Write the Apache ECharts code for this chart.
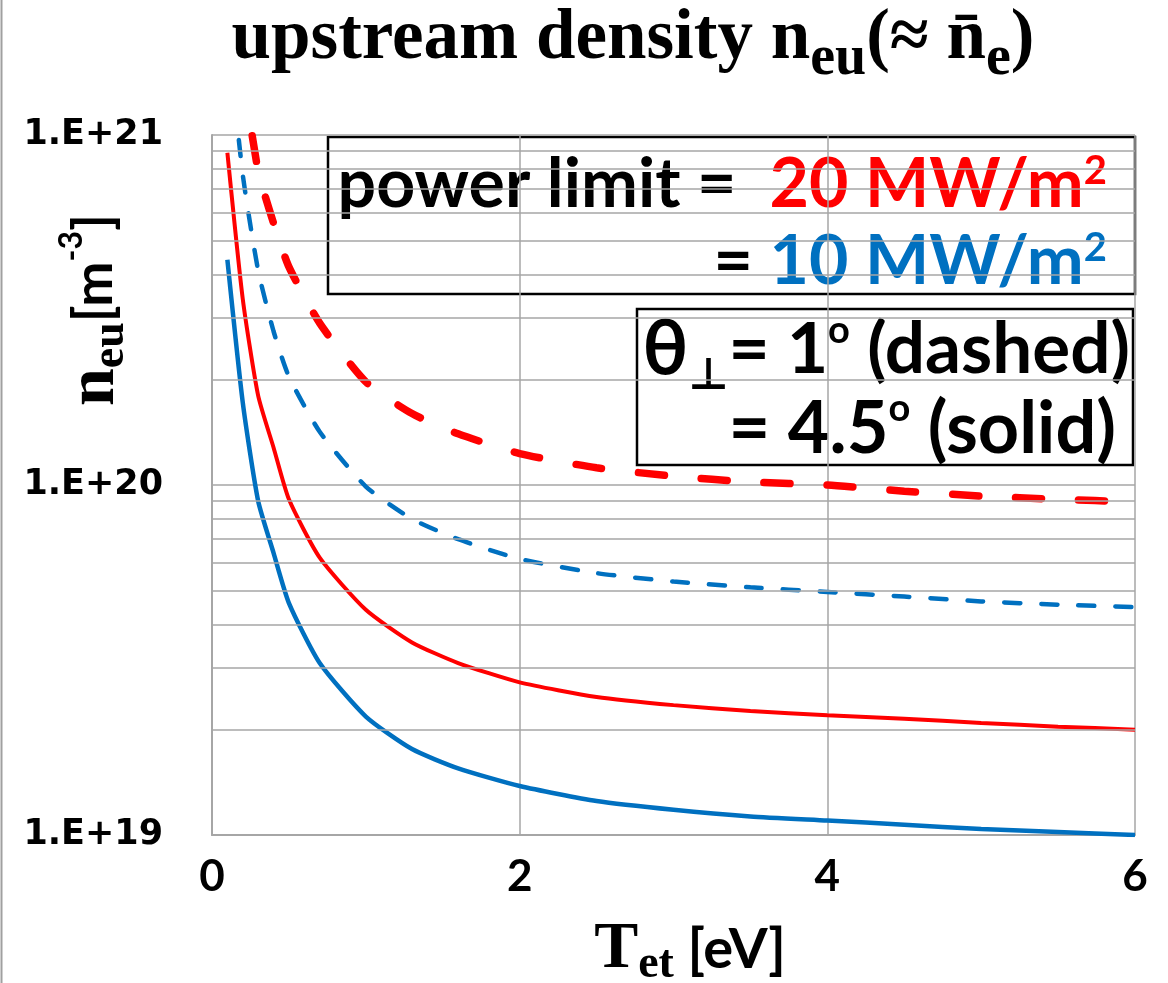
<!DOCTYPE html>
<html>
<head>
<meta charset="utf-8">
<script src="https://cdn.jsdelivr.net/npm/echarts@6/dist/echarts.min.js"></script>
<style>
html, body { margin: 0; padding: 0; background: #fff; }
#main { width: 1168px; height: 983px; }
</style>
</head>
<body>
<div id="main"></div>
<script>
// T_et [eV] sample points
var tValues = [0.1, 0.2, 0.3, 0.4, 0.5, 0.7, 1.0, 1.3, 1.6, 2.0, 2.5, 3.0, 3.5, 4.0, 4.5, 5.0, 5.5, 6.0];

// upstream density n_eu [m^-3] (null = not on the chart)
var red45 = [8.9e20, 3.4e20, 1.8e20, 1.28e20, 9.1e19, 6.2e19, 4.4e19, 3.55e19, 3.1e19, 2.73e19, 2.48e19, 2.35e19, 2.26e19, 2.2e19, 2.15e19, 2.09e19, 2.04e19, 2.0e19];
var blue45 = [4.4e20, 1.72e20, 9.0e19, 6.4e19, 4.6e19, 3.1e19, 2.18e19, 1.76e19, 1.55e19, 1.38e19, 1.25e19, 1.18e19, 1.13e19, 1.1e19, 1.07e19, 1.04e19, 1.02e19, 1.0e19];
var red1 = [null, 1.5e21, 7.9e20, 5.6e20, 4.2e20, 2.9e20, 1.97e20, 1.6e20, 1.4e20, 1.23e20, 1.12e20, 1.06e20, 1.02e20, 1.0e20, 9.6e19, 9.3e19, 9.1e19, 8.95e19];
var blue1 = [2.0e21, 7.7e20, 4.1e20, 2.75e20, 2.04e20, 1.42e20, 9.9e19, 8.0e19, 7.0e19, 6.15e19, 5.6e19, 5.3e19, 5.1e19, 4.95e19, 4.8e19, 4.65e19, 4.55e19, 4.48e19];

// axis ticks
var xTickLabels = ['0', '2', '4', '6'];
var yTickExponents = [19, 20, 21];
var yTickLabels = ['1.E+19', '1.E+20', '1.E+21'];
var yMinorGrid = [2e19, 3e19, 4e19, 5e19, 6e19, 7e19, 8e19, 9e19,
                  2e20, 3e20, 4e20, 5e20, 6e20, 7e20, 8e20, 9e20];

var RED = '#ff0000';
var BLUE = '#0070c0';
var GRID = '#a6a6a6';
var serif = "'Liberation Serif', 'Times New Roman', serif";
var sans = "Lato, 'Liberation Sans', sans-serif";

function pairs(ys) {
    var out = [];
    for (var i = 0; i < tValues.length; i++) {
        if (ys[i] !== null) out.push([tValues[i], ys[i]]);
    }
    return out;
}

var chart = echarts.init(document.getElementById('main'));

var option = {
    animation: false,
    backgroundColor: '#fff',
    grid: { left: 212, right: 33, top: 135, bottom: 148 },
    xAxis: {
        type: 'value',
        min: 0,
        max: 6,
        interval: 2,
        axisLine: { show: true, lineStyle: { color: GRID, width: 2 } },
        axisTick: { show: false },
        splitLine: { show: true, lineStyle: { color: GRID, width: 1.5 } },
        axisLabel: {
            margin: 20,
            color: '#000',
            fontFamily: sans,
            fontWeight: 'bold',
            fontSize: 44,
            formatter: function (v) {
                var i = Math.round(v / 2);
                return xTickLabels[i] !== undefined ? xTickLabels[i] : '';
            }
        }
    },
    yAxis: {
        type: 'log',
        logBase: 10,
        min: 1e19,
        max: 1e21,
        axisLine: { show: true, lineStyle: { color: GRID, width: 2 } },
        axisTick: { show: false },
        splitLine: { show: true, lineStyle: { color: GRID, width: 1.5 } },
        axisLabel: {
            margin: 49,
            color: '#000',
            fontFamily: "'DejaVu Sans', sans-serif",
            fontWeight: 'bold',
            fontSize: 35,
            formatter: function (v) {
                var i = yTickExponents.indexOf(Math.round(Math.log10(v)));
                return i >= 0 ? yTickLabels[i] : '';
            }
        }
    },
    series: [
        {
            // minor log grid lines 2..9 per decade
            type: 'line',
            z: 1,
            silent: true,
            data: [[0, 1e19]],
            showSymbol: false,
            lineStyle: { opacity: 0 },
            markLine: {
                silent: true,
                symbol: ['none', 'none'],
                label: { show: false },
                lineStyle: { color: GRID, width: 1.5, type: 'solid' },
                data: yMinorGrid.map(function (v) { return { yAxis: v }; })
            }
        },
        {
            name: '20 MW/m2, 1 deg',
            type: 'line',
            z: 3,
            data: pairs(red1),
            showSymbol: false,
            smooth: 0.2,
            lineStyle: { color: RED, width: 7.5, type: [26, 37], cap: 'round' }
        },
        {
            name: '10 MW/m2, 1 deg',
            type: 'line',
            z: 3,
            data: pairs(blue1),
            showSymbol: false,
            smooth: 0.2,
            lineStyle: { color: BLUE, width: 4.5, type: [16, 21], cap: 'round' }
        },
        {
            name: '20 MW/m2, 4.5 deg',
            type: 'line',
            z: 3,
            data: pairs(red45),
            showSymbol: false,
            smooth: 0.2,
            lineStyle: { color: RED, width: 4 }
        },
        {
            name: '10 MW/m2, 4.5 deg',
            type: 'line',
            z: 3,
            data: pairs(blue45),
            showSymbol: false,
            smooth: 0.2,
            lineStyle: { color: BLUE, width: 4.5 }
        }
    ],
    graphic: [
        {
            type: 'line',
            shape: { x1: 1.5, y1: 0, x2: 1.5, y2: 983 },
            style: { stroke: '#a0a0a0', lineWidth: 2 }
        },
        {
            type: 'text',
            x: 633, y: 40,
            style: {
                text: '{m|upstream density n}{s|eu}{m|(\u2248 n\u0304}{s|e}{m|)}',
                align: 'center', verticalAlign: 'middle',
                textAlign: 'center', textVerticalAlign: 'middle',
                rich: {
                    m: { fontFamily: serif, fontWeight: 'bold', fontSize: 71, lineHeight: 96, verticalAlign: 'middle', fill: '#000' },
                    s: { fontFamily: serif, fontWeight: 'bold', fontSize: 56, lineHeight: 96, verticalAlign: 'bottom', fill: '#000' }
                }
            }
        },
        {
            type: 'text',
            x: 95, y: 310,
            rotation: Math.PI / 2,
            style: {
                text: '{n|n}{s|eu}{b|[m}{p|-3}{b|]}',
                align: 'center', verticalAlign: 'middle',
                textAlign: 'center', textVerticalAlign: 'middle',
                rich: {
                    n: { fontFamily: serif, fontWeight: 'bold', fontSize: 68, lineHeight: 78, verticalAlign: 'middle', fill: '#000' },
                    s: { fontFamily: serif, fontWeight: 'bold', fontSize: 46, lineHeight: 78, verticalAlign: 'bottom', fill: '#000' },
                    b: { fontFamily: sans, fontWeight: 'bold', fontSize: 54, lineHeight: 78, verticalAlign: 'middle', fill: '#000' },
                    p: { fontFamily: sans, fontWeight: 'bold', fontSize: 32, lineHeight: 62, verticalAlign: 'top', fill: '#000' }
                }
            }
        },
        {
            type: 'text',
            x: 690, y: 950,
            style: {
                text: '{t|T}{s|et}{b| [eV]}',
                align: 'center', verticalAlign: 'middle',
                textAlign: 'center', textVerticalAlign: 'middle',
                rich: {
                    t: { fontFamily: serif, fontWeight: 'bold', fontSize: 66, lineHeight: 76, verticalAlign: 'middle', fill: '#000' },
                    s: { fontFamily: serif, fontWeight: 'bold', fontSize: 46, lineHeight: 76, verticalAlign: 'bottom', fill: '#000' },
                    b: { fontFamily: sans, fontWeight: 'bold', fontSize: 56, lineHeight: 76, verticalAlign: 'middle', fill: '#000' }
                }
            }
        },
        {
            type: 'rect',
            shape: { x: 328, y: 137, width: 807, height: 157 },
            style: { fill: 'none', stroke: '#000', lineWidth: 2.5 }
        },
        {
            type: 'text',
            x: 1107, y: 185,
            style: {
                text: '{k|power limit =  }{r|20 MW/m}{rp|2}',
                align: 'right', verticalAlign: 'middle',
                textAlign: 'right', textVerticalAlign: 'middle',
                rich: {
                    k: { fontFamily: sans, fontWeight: 'bold', fontSize: 68, lineHeight: 68, verticalAlign: 'middle', fill: '#000' },
                    r: { fontFamily: sans, fontWeight: 'bold', fontSize: 68, lineHeight: 68, verticalAlign: 'middle', fill: RED },
                    rp: { fontFamily: sans, fontWeight: 'bold', fontSize: 40, lineHeight: 68, verticalAlign: 'top', fill: RED }
                }
            }
        },
        {
            type: 'text',
            x: 1107, y: 262,
            style: {
                text: '{k|= }{b|10 MW/m}{bp|2}',
                align: 'right', verticalAlign: 'middle',
                textAlign: 'right', textVerticalAlign: 'middle',
                rich: {
                    k: { fontFamily: sans, fontWeight: 'bold', fontSize: 68, lineHeight: 68, verticalAlign: 'middle', fill: '#000' },
                    b: { fontFamily: sans, fontWeight: 'bold', fontSize: 68, lineHeight: 68, verticalAlign: 'middle', fill: BLUE },
                    bp: { fontFamily: sans, fontWeight: 'bold', fontSize: 40, lineHeight: 68, verticalAlign: 'top', fill: BLUE }
                }
            }
        },
        {
            type: 'rect',
            shape: { x: 637, y: 309, width: 496, height: 156 },
            style: { fill: 'none', stroke: '#000', lineWidth: 2.5 }
        },
        {
            type: 'text',
            x: 1130, y: 350,
            style: {
                text: '{t|\u03b8}{ks|\u22a5}{k|= 1}{kd|o}{k| (dashed)}',
                align: 'right', verticalAlign: 'middle',
                textAlign: 'right', textVerticalAlign: 'middle',
                rich: {
                    t: { fontFamily: sans, fontWeight: 'bold', fontSize: 76, lineHeight: 80, verticalAlign: 'middle', fill: '#000' },
                    k: { fontFamily: sans, fontWeight: 'bold', fontSize: 71, lineHeight: 80, verticalAlign: 'middle', fill: '#000' },
                    ks: { fontFamily: "'DejaVu Sans', sans-serif", fontWeight: 'bold', fontSize: 44, lineHeight: 100, verticalAlign: 'bottom', fill: '#000' },
                    kd: { fontFamily: sans, fontWeight: 'bold', fontSize: 38, lineHeight: 70, verticalAlign: 'top', padding: [12, 0, 0, 0], fill: '#000' }
                }
            }
        },
        {
            type: 'text',
            x: 1116, y: 430,
            style: {
                text: '{k|= 4.5}{kd|o}{k| (solid)}',
                align: 'right', verticalAlign: 'middle',
                textAlign: 'right', textVerticalAlign: 'middle',
                rich: {
                    k: { fontFamily: sans, fontWeight: 'bold', fontSize: 72, lineHeight: 80, verticalAlign: 'middle', fill: '#000' },
                    kd: { fontFamily: sans, fontWeight: 'bold', fontSize: 38, lineHeight: 70, verticalAlign: 'top', fill: '#000' }
                }
            }
        }
    ]
};

chart.setOption(option);
</script>
</body>
</html>
